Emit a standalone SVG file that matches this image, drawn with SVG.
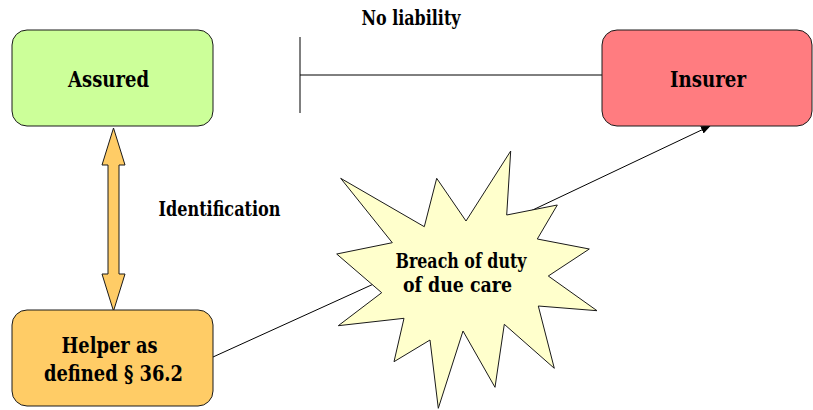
<svg xmlns="http://www.w3.org/2000/svg" width="813" height="410" viewBox="0 0 813 410">
  <defs>
    <style>
      .box { stroke: #1a1a1a; stroke-width: 1; }
      .lbl { font-family: "DejaVu Serif", "Liberation Serif", "Noto Serif", serif; font-weight: bold; fill: #000; text-anchor: middle; }
      .big { font-size: 22px; }
      .small { font-size: 20px; }
      .conn { stroke: #000; stroke-width: 1; fill: none; }
    </style>
    <marker id="arrowhead" viewBox="0 0 10 10" refX="9" refY="5" markerWidth="10" markerHeight="10" markerUnits="userSpaceOnUse" orient="auto">
      <path d="M0,1 L10,5 L0,9 Z" fill="#000"/>
    </marker>
  </defs>

  <rect width="813" height="410" fill="#ffffff"/>

  <!-- connectors -->
  <g id="connectors">
    <!-- blocking line: no liability between Insurer and Assured -->
    <line class="conn" x1="300" y1="75" x2="602" y2="75"/>
    <line class="conn" x1="300" y1="37" x2="300" y2="113"/>
    <!-- Helper to breach -->
    <line class="conn" x1="213" y1="357" x2="400" y2="272"/>
    <!-- breach to Insurer -->
    <line class="conn" x1="520" y1="216" x2="710" y2="126" marker-end="url(#arrowhead)"/>
    <!-- identification double arrow -->
    <polygon id="identification-arrow" points="113.5,128 125,165 119,165 119,274 125,274 113.5,311 102,274 108,274 108,165 102,165" fill="#FFCC66" stroke="#1a1a1a" stroke-width="1"/>
  </g>

  <g id="assured">
    <rect class="box" x="12" y="30" width="201" height="96" rx="15" fill="#CCFF99"/>
    <text class="lbl big" x="108.5" y="87" textLength="81" lengthAdjust="spacingAndGlyphs">Assured</text>
  </g>

  <g id="insurer">
    <rect class="box" x="602" y="30" width="210" height="96" rx="15" fill="#FF7C80"/>
    <text class="lbl big" x="708" y="87" textLength="76" lengthAdjust="spacingAndGlyphs">Insurer</text>
  </g>

  <g id="helper">
    <rect class="box" x="12" y="310" width="201" height="96" rx="15" fill="#FFCC66"/>
    <text class="lbl big" x="109.5" y="353" textLength="96" lengthAdjust="spacingAndGlyphs">Helper as</text>
    <text class="lbl big" x="113.5" y="381" textLength="139" lengthAdjust="spacingAndGlyphs">defined § 36.2</text>
  </g>

  <g id="breach">
    <polygon class="box" fill="#FFFFCC" points="510.7,151 506.7,215 557.3,205 537.3,239 589.3,249 548.3,276 597,310.7 538.3,306 554.3,368.3 504.3,324.3 495,387.3 463,331 438.3,408.3 430,340 394,361.7 404,318.3 338.3,325.7 381.7,292.7 336.7,254 392.3,242.7 340.7,178.3 424.3,226.7 436.7,178.3 466,221"/>
    <text class="lbl small" x="461" y="268" textLength="131" lengthAdjust="spacingAndGlyphs">Breach of duty</text>
    <text class="lbl small" x="457.5" y="292" textLength="109" lengthAdjust="spacingAndGlyphs">of due care</text>
  </g>

  <g id="labels">
    <text class="lbl small" x="411" y="25" textLength="99" lengthAdjust="spacingAndGlyphs">No liability</text>
    <text class="lbl small" x="219.5" y="216" textLength="122" lengthAdjust="spacingAndGlyphs">Identification</text>
  </g>
</svg>
